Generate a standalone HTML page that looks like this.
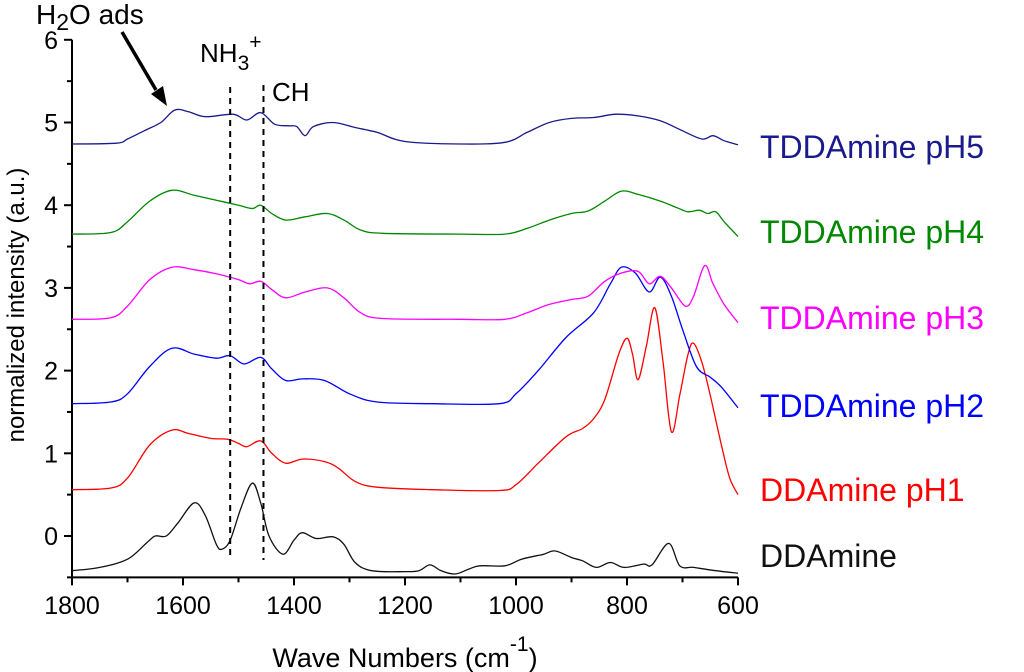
<!DOCTYPE html>
<html><head><meta charset="utf-8"><style>
body{margin:0;background:#fff}
svg{display:block;font-family:"Liberation Sans",Arial,sans-serif}
</style></head><body>
<svg id="chart" width="1024" height="672" viewBox="0 0 1024 672">
<g id="axes"></g>
<g id="series"></g>
<g id="annot"></g>
</svg>
<script>
const xTicks=[1800,1600,1400,1200,1000,800,600];
const yTicks=[0,1,2,3,4,5,6];
const seriesNames=["DDAmine","DDAmine pH1","TDDAmine pH2","TDDAmine pH3","TDDAmine pH4","TDDAmine pH5"];
const seriesColors=["#111","#f00","#00f","#f0f","#080","#1a1a8c"];
const sDDA=[[1800,-0.42],[1750,-0.38],[1700,-0.28],[1665,-0.08],[1650,0],[1630,0.0],[1610,0.15],[1580,0.4],[1560,0.25],[1540,-0.1],[1530,-0.16],[1515,-0.05],[1495,0.35],[1475,0.64],[1460,0.4],[1445,0.0],[1420,-0.22],[1400,-0.05],[1385,0.04],[1360,-0.03],[1330,-0.01],[1310,-0.1],[1290,-0.32],[1260,-0.42],[1200,-0.43],[1175,-0.42],[1155,-0.35],[1135,-0.42],[1110,-0.46],[1085,-0.4],[1065,-0.36],[1020,-0.36],[990,-0.28],[950,-0.22],[930,-0.18],[900,-0.26],[880,-0.3],[855,-0.38],[830,-0.32],[805,-0.38],[770,-0.34],[755,-0.35],[725,-0.09],[705,-0.36],[680,-0.38],[640,-0.42],[600,-0.45]];
const sPH1=[[1800,0.56],[1730,0.58],[1700,0.7],[1660,1.1],[1620,1.28],[1590,1.24],[1550,1.18],[1520,1.17],[1500,1.12],[1485,1.08],[1460,1.15],[1440,1.0],[1415,0.88],[1385,0.93],[1345,0.9],[1320,0.82],[1290,0.66],[1250,0.59],[1150,0.56],[1030,0.55],[1000,0.62],[960,0.88],[910,1.2],[880,1.3],[860,1.42],[840,1.65],[815,2.2],[800,2.39],[790,2.2],[780,1.89],[765,2.3],[750,2.76],[735,2.1],[720,1.26],[705,1.7],[690,2.2],[680,2.33],[665,2.1],[650,1.7],[630,1.1],[615,0.7],[600,0.5]];
const sPH2=[[1800,1.6],[1730,1.62],[1700,1.72],[1660,2.05],[1620,2.27],[1580,2.2],[1540,2.15],[1515,2.18],[1490,2.08],[1460,2.16],[1440,2.02],[1415,1.88],[1385,1.9],[1345,1.88],[1300,1.72],[1250,1.62],[1150,1.6],[1030,1.6],[1000,1.72],[960,2.0],[910,2.4],[860,2.7],[830,3.05],[810,3.25],[785,3.18],[760,2.95],[740,3.13],[720,2.9],[700,2.5],[675,2.05],[650,1.92],[630,1.8],[600,1.55]];
const sPH3=[[1800,2.62],[1730,2.64],[1700,2.78],[1660,3.1],[1620,3.25],[1580,3.22],[1540,3.17],[1500,3.1],[1480,3.05],[1460,3.08],[1440,2.98],[1415,2.88],[1380,2.95],[1340,3.0],[1310,2.88],[1280,2.7],[1240,2.63],[1100,2.62],[1020,2.62],[980,2.7],[940,2.8],[900,2.86],[870,2.9],[840,3.08],[810,3.18],[780,3.2],[760,3.05],[740,3.14],[720,3.0],[695,2.78],[680,2.9],[660,3.27],[645,3.05],[625,2.8],[600,2.58]];
const sPH4=[[1800,3.65],[1730,3.67],[1700,3.8],[1660,4.05],[1620,4.18],[1580,4.12],[1540,4.06],[1500,4.0],[1475,3.96],[1460,4.0],[1440,3.9],[1415,3.82],[1380,3.86],[1340,3.9],[1310,3.82],[1280,3.7],[1240,3.66],[1100,3.65],[1020,3.65],[980,3.72],[940,3.82],[900,3.9],[870,3.93],[840,4.05],[810,4.17],[780,4.13],[740,4.05],[710,3.97],[690,3.92],[670,3.94],[655,3.9],[640,3.92],[625,3.8],[600,3.62]];
const sPH5=[[1800,4.74],[1720,4.75],[1700,4.8],[1670,4.9],[1640,5.0],[1615,5.15],[1590,5.13],[1560,5.07],[1510,5.1],[1485,5.03],[1460,5.12],[1435,4.98],[1410,4.96],[1395,4.95],[1380,4.84],[1365,4.95],[1330,5.0],[1290,4.94],[1250,4.88],[1200,4.77],[1100,4.74],[1020,4.76],[980,4.88],[940,5.0],[900,5.05],[860,5.06],[820,5.1],[780,5.08],[740,5.02],[700,4.9],[665,4.8],[645,4.84],[625,4.78],[600,4.73]];
const allSeries=[sDDA,sPH1,sPH2,sPH3,sPH4,sPH5];
const labelY=[556,490,406,318,232,147];
const X0=72,X1=738,Y0=536,U=82.7;
function sx(w){return X0+(1800-w)/(1800-600)*(X1-X0);}
function sy(v){return Y0-v*U;}
const NS="http://www.w3.org/2000/svg";
function mk(tag,attrs,parent){const e=document.createElementNS(NS,tag);for(const k in attrs)e.setAttribute(k,attrs[k]);parent.appendChild(e);return e;}
const axes=document.getElementById('axes');
let a=mk('path',{d:`M${X0},${sy(6)} V${sy(-0.5)} H${X1}`,stroke:'#000','stroke-width':2,fill:'none'},axes);


for(let v=-0.5;v<=6.01;v+=0.5){
 const major=Math.abs(v-Math.round(v))<0.01;
 const t=mk('line',{x1:X0-(major?8:5),x2:X0,y1:sy(v),y2:sy(v),stroke:'#000','stroke-width':2},axes);
 
 
}
yTicks.forEach(v=>{const t=mk('text',{x:X0-14,y:sy(v)+9,'text-anchor':'end','font-size':25},axes);t.textContent=v;
 
 });
for(let w=1800;w>=600;w-=100){
 const major=w%200===0;
 const t=mk('line',{x1:sx(w),x2:sx(w),y1:sy(-0.5),y2:sy(-0.5)+(major?8:5),stroke:'#000','stroke-width':2},axes);
 
 
}
xTicks.forEach(w=>{const t=mk('text',{x:sx(w),y:614,'text-anchor':'middle','font-size':25},axes);t.textContent=w;
 
 });
let xt=mk('text',{x:405,y:667,'text-anchor':'middle','font-size':27},axes);
xt.innerHTML='Wave Numbers (cm<tspan dy="-16" font-size="21">-1</tspan><tspan dy="16">)</tspan>';


let yt=mk('text',{x:0,y:0,'text-anchor':'middle','font-size':24,transform:'translate(24,305) rotate(-90)'},axes);
yt.textContent='normalized intensity (a.u.)';


function smooth(pts){
 const p=pts.map(q=>[sx(q[0]),sy(q[1])]);
 let d=`M${p[0][0].toFixed(1)},${p[0][1].toFixed(1)}`;
 for(let i=0;i<p.length-1;i++){
  const p0=p[i-1]||p[i],p1=p[i],p2=p[i+1],p3=p[i+2]||p2;
  const c1=[p1[0]+(p2[0]-p0[0])/6,p1[1]+(p2[1]-p0[1])/6];
  const c2=[p2[0]-(p3[0]-p1[0])/6,p2[1]-(p3[1]-p1[1])/6];
  d+=` C${c1[0].toFixed(1)},${c1[1].toFixed(1)} ${c2[0].toFixed(1)},${c2[1].toFixed(1)} ${p2[0].toFixed(1)},${p2[1].toFixed(1)}`;
 }
 return d;
}
const sg=document.getElementById('series');
allSeries.forEach((s,i)=>{
 const p=mk('path',{d:smooth(s),stroke:seriesColors[i],'stroke-width':1.3,fill:'none'},sg);
 
 
 const t=mk('text',{x:760,y:labelY[i]+11,'font-size':32,fill:seriesColors[i]},sg);
 t.textContent=seriesNames[i];
 
 
});
const an=document.getElementById('annot');
[1515,1455].forEach(w=>{const l=mk('line',{x1:sx(w),x2:sx(w),y1:w===1515?87:85,y2:560,stroke:'#000','stroke-width':2,'stroke-dasharray':'6,5'},an);
 
 });
let h=mk('text',{x:36,y:24,'font-size':28},an);
h.innerHTML='H<tspan dy="6" font-size="23">2</tspan><tspan dy="-6">O ads</tspan>';


let ar=mk('line',{x1:122,x2:156,y1:32,y2:90,stroke:'#000','stroke-width':3.5},an);


let ah=mk('polygon',{points:'167,106 151,94 163,86',fill:'#000'},an);


let n=mk('text',{x:200,y:62,'font-size':26},an);
n.innerHTML='NH<tspan dy="8" font-size="21">3</tspan><tspan dy="-21" font-size="21">+</tspan>';


let c=mk('text',{x:272,y:101,'font-size':26},an);
c.textContent='CH';


</script>
</body></html>
